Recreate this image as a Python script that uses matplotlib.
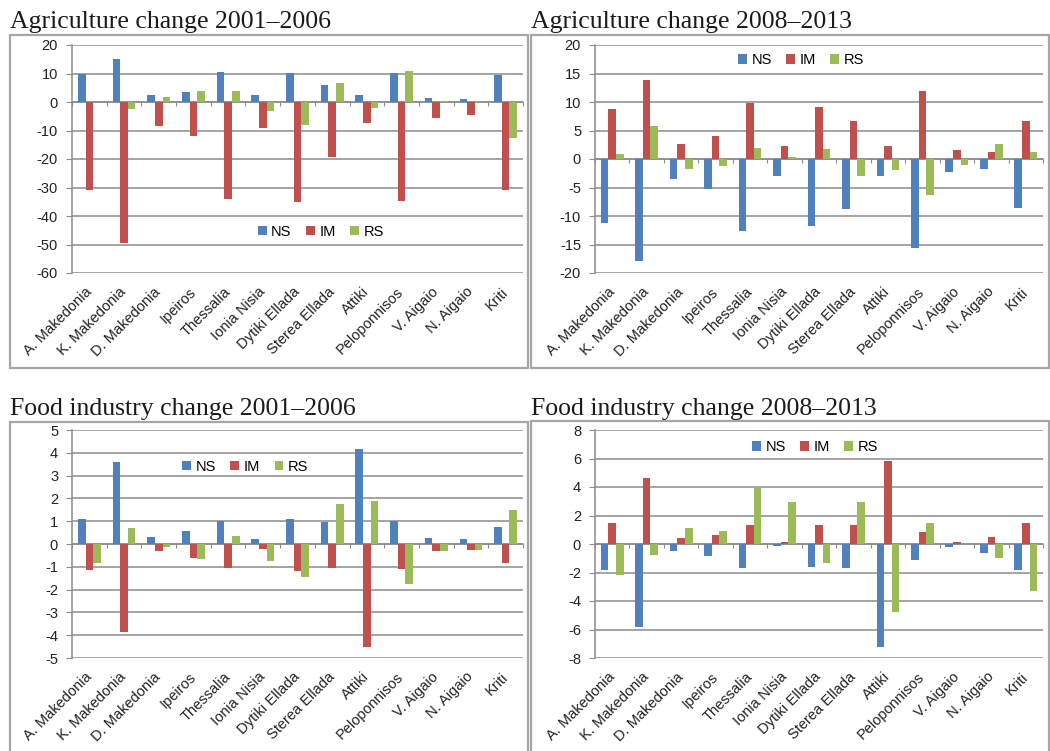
import matplotlib.pyplot as plt
from matplotlib.patches import Rectangle
import numpy as np

plt.rcParams['axes.unicode_minus'] = False

regions = ['A. Makedonia', 'K. Makedonia', 'D. Makedonia', 'Ipeiros', 'Thessalia',
           'Ionia Nisia', 'Dytiki Ellada', 'Sterea Ellada', 'Attiki', 'Peloponnisos',
           'V. Aigaio', 'N. Aigaio', 'Kriti']

# Agriculture change 2001-2006
agr1_ns = [10, 15, 2.5, 3.5, 10.5, 2.5, 10.3, 6, 2.3, 10.3, 1.3, 1.1, 9.4]
agr1_im = [-31, -49.5, -8.5, -12, -34, -9, -35, -19.3, -7.5, -34.8, -5.5, -4.5, -31]
agr1_rs = [0, -2.5, 1.8, 3.7, 3.8, -3, -8, 6.5, -2, 10.9, 0.5, 0.2, -12.5]

# Agriculture change 2008-2013
agr2_ns = [-11.3, -17.9, -3.5, -5.3, -12.6, -3, -11.8, -8.8, -3, -15.6, -2.2, -1.8, -8.6]
agr2_im = [8.7, 13.8, 2.7, 4.1, 9.9, 2.3, 9.1, 6.7, 2.2, 12, 1.6, 1.3, 6.6]
agr2_rs = [0.9, 5.8, -1.7, -1.2, 2.0, 0.3, 1.7, -3, -2, -6.4, -1, 2.6, 1.3]

# Food industry change 2001-2006
food1_ns = [1.1, 3.6, 0.3, 0.55, 1.0, 0.2, 1.1, 0.95, 4.15, 1.0, 0.25, 0.2, 0.75]
food1_im = [-1.15, -3.85, -0.3, -0.6, -1.05, -0.2, -1.2, -1.05, -4.5, -1.1, -0.3, -0.25, -0.85]
food1_rs = [-0.85, 0.7, -0.15, -0.65, 0.35, -0.75, -1.45, 1.75, 1.9, -1.75, -0.3, -0.25, 1.5]

# Food industry change 2008-2013
food2_ns = [-1.8, -5.8, -0.5, -0.85, -1.7, -0.15, -1.6, -1.7, -7.2, -1.1, -0.2, -0.6, -1.8]
food2_im = [1.45, 4.65, 0.4, 0.65, 1.35, 0.15, 1.3, 1.35, 5.85, 0.85, 0.15, 0.5, 1.45]
food2_rs = [-2.2, -0.75, 1.1, 0.9, 3.95, 2.95, -1.35, 2.95, -4.8, 1.45, 0.02, -0.95, -3.3]

colors = {'NS': '#4f81bd', 'IM': '#c0504d', 'RS': '#9bbb59'}

W, H = 1050, 751
fig = plt.figure(figsize=(W / 100, H / 100), dpi=100)


def px_rect(left, top, right, bottom):
    # pixel box (top-left origin) -> figure fraction rect
    return [left / W, 1 - bottom / H, (right - left) / W, (bottom - top) / H]


def panel(box, title, title_y, frame, ns, im, rs, ylim, step, leg_pos):
    # panel frame
    fig.add_artist(Rectangle((frame[0] / W, 1 - frame[3] / H), (frame[2] - frame[0]) / W,
                             (frame[3] - frame[1]) / H, transform=fig.transFigure,
                             fill=False, ec='#a6a6a6', lw=1.6))
    fig.text(frame[0] / W, 1 - title_y / H, title, family='Liberation Serif',
             fontsize=18.5, color='#1a1a1a', va='baseline', ha='left')

    ax = fig.add_axes(px_rect(*box))
    x = np.arange(len(regions))
    w = 0.22
    ax.bar(x - w, ns, w, color=colors['NS'], label='NS', zorder=3)
    ax.bar(x, im, w, color=colors['IM'], label='IM', zorder=3)
    ax.bar(x + w, rs, w, color=colors['RS'], label='RS', zorder=3)

    ax.set_xlim(-0.5, len(regions) - 0.5)
    ax.set_ylim(*ylim)
    ax.set_yticks(np.arange(ylim[0], ylim[1] + step / 2, step))
    ax.yaxis.grid(True, color='#8c8c8c', lw=1.1)
    ax.set_axisbelow(True)
    for s in ['top', 'right', 'bottom']:
        ax.spines[s].set_visible(False)
    ax.spines['left'].set_color('#8c8c8c')
    ax.spines['left'].set_linewidth(1.1)
    ax.tick_params(axis='y', length=4, pad=6, color='#8c8c8c', labelsize=10.5,
                   labelcolor='#222222', labelfontfamily='Liberation Sans')
    ax.set_xticks(x, regions, rotation=45, ha='right', va='center', rotation_mode='anchor',
                  family='Liberation Sans', fontsize=10.5, color='#222222')
    ax.tick_params(axis='x', length=0, pad=12)

    # zero line with category separators
    sec = ax.secondary_xaxis(0, transform=ax.transData)
    sec.set_xticks(np.arange(-0.5, len(regions), 1.0))
    sec.tick_params(length=3, color='#8c8c8c', labelbottom=False)
    sec.spines['bottom'].set_color('#8c8c8c')
    sec.spines['bottom'].set_linewidth(1.1)

    ax.legend(loc='center', bbox_to_anchor=leg_pos, ncol=3, frameon=False,
              handlelength=0.6, handleheight=0.6, handletextpad=0.3, columnspacing=1.0,
              prop={'family': 'Liberation Sans', 'size': 10.5})
    return ax


panel((72, 45, 523, 273), 'Agriculture change 2001\u20132006', 28, (10, 35, 528, 368),
      agr1_ns, agr1_im, agr1_rs, (-60, 20), 10, (0.552, 0.18))
panel((595, 45, 1043, 273), 'Agriculture change 2008\u20132013', 28, (531, 35, 1049, 368),
      agr2_ns, agr2_im, agr2_rs, (-20, 20), 5, (0.46, 0.934))
panel((72, 430, 523, 658), 'Food industry change 2001\u20132006', 415, (10, 422, 528, 760),
      food1_ns, food1_im, food1_rs, (-5, 5), 1, (0.384, 0.838))
panel((595, 430, 1043, 658), 'Food industry change 2008\u20132013', 415, (531, 421, 1049, 760),
      food2_ns, food2_im, food2_rs, (-8, 8), 2, (0.491, 0.925))

fig.savefig('out.png', dpi=100)
